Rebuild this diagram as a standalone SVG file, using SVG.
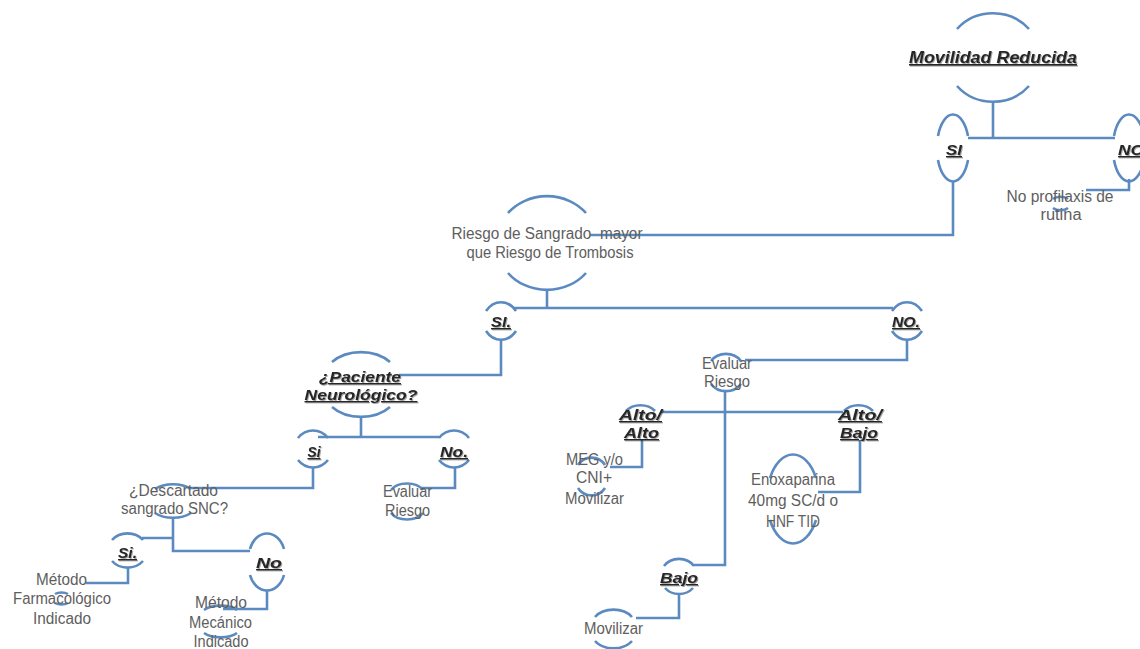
<svg xmlns="http://www.w3.org/2000/svg" width="1140" height="649" viewBox="0 0 1140 649">
<defs>
<style>
.a{fill:none;stroke:#5b8ac0;stroke-width:2.6}
.c{fill:none;stroke:#5b8ac0;stroke-width:2.6}
.t{font-family:"Liberation Sans",Arial,sans-serif;font-size:16px;fill:#5e5e5e;text-anchor:middle}
.b{font-family:"Liberation Sans",Arial,sans-serif;font-size:14px;font-weight:bold;font-style:italic;fill:#262626;text-decoration:underline;text-anchor:middle;filter:url(#sh)}
</style>
<filter id="sh" x="-10%" y="-30%" width="120%" height="160%">
<feDropShadow dx="1" dy="1" stdDeviation="0.6" flood-color="#000" flood-opacity="0.35"/>
</filter>
</defs>
<rect width="1140" height="649" fill="#ffffff"/>
<g id="connectors">
<path class="c" d="M993,101 V138 M968,138 H1115"/>
<path class="c" d="M953,181 V235 H590"/>
<path class="c" d="M1129,179 V190 H1086"/>
<path class="c" d="M547,290 V308 M513,308 H893"/>
<path class="c" d="M501,340 V375 H399"/>
<path class="c" d="M907,340 V360 H745"/>
<path class="c" d="M361,417 V437 M318,437 H439"/>
<path class="c" d="M313,467 V488 H188"/>
<path class="c" d="M455,467 V488 H421"/>
<path class="c" d="M173,518 V551 H250 M173,538 H142"/>
<path class="c" d="M128,568 V583 H86"/>
<path class="c" d="M267,590 V609 H223"/>
<path class="c" d="M725,391 V565 H694 M660,412 H843"/>
<path class="c" d="M642,440 V467 H610"/>
<path class="c" d="M860,440 V492 H818"/>
<path class="c" d="M679,594 V618 H636"/>
</g>
<g id="movilidad">
<path class="a" d="M957,29 A47,44 0 0 1 1029,29 M957,86 A47,44 0 0 0 1029,86"/>
<text class="b" x="993" y="63" style="font-size:16px" textLength="168" lengthAdjust="spacingAndGlyphs">Movilidad Reducida</text>
</g>
<g id="si-1">
<path class="a" d="M938,136 A16,33 0 0 1 968,136 M938,160 A16,33 0 0 0 968,160"/>
<text class="b" x="954" y="155" textLength="16" lengthAdjust="spacingAndGlyphs">SI</text>
</g>
<g id="no-1">
<path class="a" d="M1114,136 A16,33 0 0 1 1144,136 M1114,160 A16,33 0 0 0 1144,160"/>
<text class="b" x="1118" y="155" style="text-anchor:start" textLength="26" lengthAdjust="spacingAndGlyphs">NO</text>
</g>
<g id="no-profilaxis">
<path class="a" d="M1053,199 A9,5 0 0 1 1068,199 M1053,208 A9,5 0 0 0 1068,208"/>
<text class="t" x="1060" y="202" textLength="107" lengthAdjust="spacingAndGlyphs">No profilaxis de</text>
<text class="t" x="1061" y="220" textLength="41" lengthAdjust="spacingAndGlyphs">rutina</text>
</g>
<g id="riesgo-sangrado">
<path class="a" d="M508,213 A50,45 0 0 1 586,213 M508,273 A50,45 0 0 0 586,273"/>
<text class="t" x="547" y="239" style="white-space:pre" textLength="191" lengthAdjust="spacingAndGlyphs">Riesgo de Sangrado  mayor</text>
<text class="t" x="550" y="258" textLength="167" lengthAdjust="spacingAndGlyphs">que Riesgo de Trombosis</text>
</g>
<g id="si-2">
<path class="a" d="M486,311 A20,26 0 0 1 516,311 M486,331 A20,26 0 0 0 516,331"/>
<text class="b" x="501" y="327" textLength="20" lengthAdjust="spacingAndGlyphs">SI.</text>
</g>
<g id="no-2">
<path class="a" d="M892,311 A20,26 0 0 1 922,311 M892,331 A20,26 0 0 0 922,331"/>
<text class="b" x="906" y="327" textLength="28" lengthAdjust="spacingAndGlyphs">NO.</text>
</g>
<g id="evaluar-riesgo-1">
<path class="a" d="M711,361 A18,16 0 0 1 741,361 M711,384 A18,16 0 0 0 741,384"/>
<text class="t" x="727" y="369" textLength="50" lengthAdjust="spacingAndGlyphs">Evaluar</text>
<text class="t" x="727" y="387" textLength="46" lengthAdjust="spacingAndGlyphs">Riesgo</text>
</g>
<g id="paciente-neurologico">
<path class="a" d="M332,362 A38,28 0 0 1 390,362 M332,407 A38,28 0 0 0 390,407"/>
<text class="b" x="360" y="382" textLength="82" lengthAdjust="spacingAndGlyphs">¿Paciente</text>
<text class="b" x="361" y="400" textLength="113" lengthAdjust="spacingAndGlyphs">Neurológico?</text>
</g>
<g id="si-3">
<path class="a" d="M298,438 A20,22 0 0 1 328,438 M298,460 A20,22 0 0 0 328,460"/>
<text class="b" x="314" y="457" textLength="13" lengthAdjust="spacingAndGlyphs">Si</text>
</g>
<g id="no-3">
<path class="a" d="M439,438 A20,22 0 0 1 469,438 M439,460 A20,22 0 0 0 469,460"/>
<text class="b" x="454" y="457" textLength="28" lengthAdjust="spacingAndGlyphs">No.</text>
</g>
<g id="descartado-sangrado">
<path class="a" d="M155,489 A24,14 0 0 1 191,489 M155,513 A24,14 0 0 0 191,513"/>
<text class="t" x="173.5" y="496" textLength="89" lengthAdjust="spacingAndGlyphs">¿Descartado</text>
<text class="t" x="174.5" y="514" textLength="107" lengthAdjust="spacingAndGlyphs">sangrado SNC?</text>
</g>
<g id="evaluar-riesgo-2">
<path class="a" d="M391,490 A18,12 0 0 1 423,490 M391,513 A18,12 0 0 0 423,513"/>
<text class="t" x="407.5" y="497" textLength="49" lengthAdjust="spacingAndGlyphs">Evaluar</text>
<text class="t" x="407.5" y="516" textLength="45" lengthAdjust="spacingAndGlyphs">Riesgo</text>
</g>
<g id="si-4">
<path class="a" d="M112,540 A20,18 0 0 1 143,540 M112,561 A20,18 0 0 0 143,561"/>
<text class="b" x="127.5" y="558" textLength="19" lengthAdjust="spacingAndGlyphs">Si.</text>
</g>
<g id="no-4">
<path class="a" d="M250,549 A18,23 0 0 1 284,549 M250,575 A18,23 0 0 0 284,575"/>
<text class="b" x="269" y="568" textLength="26" lengthAdjust="spacingAndGlyphs">No</text>
</g>
<g id="metodo-farmacologico">
<path class="a" d="M55,594 A9,5 0 0 1 68,594 M55,603 A9,5 0 0 0 68,603"/>
<text class="t" x="61.5" y="585" textLength="51" lengthAdjust="spacingAndGlyphs">Método</text>
<text class="t" x="62" y="604" textLength="98" lengthAdjust="spacingAndGlyphs">Farmacológico</text>
<text class="t" x="62" y="624" textLength="58" lengthAdjust="spacingAndGlyphs">Indicado</text>
</g>
<g id="metodo-mecanico">
<path class="a" d="M204,610 A20,10 0 0 1 237,610 M204,633 A20,10 0 0 0 237,633"/>
<text class="t" x="221" y="608" textLength="52" lengthAdjust="spacingAndGlyphs">Método</text>
<text class="t" x="220.5" y="628" textLength="63" lengthAdjust="spacingAndGlyphs">Mecánico</text>
<text class="t" x="221" y="647" textLength="55" lengthAdjust="spacingAndGlyphs">Indicado</text>
</g>
<g id="alto-alto">
<path class="a" d="M626,411 A18,14 0 0 1 655,411"/>
<text class="b" x="640.5" y="420" textLength="43" lengthAdjust="spacingAndGlyphs">Alto/</text>
<text class="b" x="641.5" y="438" textLength="35" lengthAdjust="spacingAndGlyphs">Alto</text>
</g>
<g id="alto-bajo">
<path class="a" d="M844,411 A18,14 0 0 1 873,411"/>
<text class="b" x="860" y="420" textLength="44" lengthAdjust="spacingAndGlyphs">Alto/</text>
<text class="b" x="859" y="438" textLength="38" lengthAdjust="spacingAndGlyphs">Bajo</text>
</g>
<g id="meg-cni">
<path class="a" d="M578,465 A16,16 0 0 1 605,465 M578,488 A16,16 0 0 0 605,488"/>
<text class="t" x="594.5" y="465" textLength="57" lengthAdjust="spacingAndGlyphs">MEG y/o</text>
<text class="t" x="594" y="483" textLength="36" lengthAdjust="spacingAndGlyphs">CNI+</text>
<text class="t" x="594.5" y="504" textLength="59" lengthAdjust="spacingAndGlyphs">Movilizar</text>
</g>
<g id="enoxaparina">
<path class="a" d="M770,478 A26,44 0 0 1 816,478 M770,520 A26,44 0 0 0 816,520"/>
<text class="t" x="793" y="485" textLength="84" lengthAdjust="spacingAndGlyphs">Enoxaparina</text>
<text class="t" x="793" y="506" textLength="90" lengthAdjust="spacingAndGlyphs">40mg SC/d o</text>
<text class="t" x="793" y="527" textLength="54" lengthAdjust="spacingAndGlyphs">HNF TID</text>
</g>
<g id="bajo">
<path class="a" d="M664,566 A18,16 0 0 1 694,566 M665,588 A18,16 0 0 0 693,588"/>
<text class="b" x="679" y="583" textLength="38" lengthAdjust="spacingAndGlyphs">Bajo</text>
</g>
<g id="movilizar">
<path class="a" d="M595,617 A22,16 0 0 1 632,617 M595,641 A22,16 0 0 0 632,641"/>
<text class="t" x="613.5" y="634" textLength="59" lengthAdjust="spacingAndGlyphs">Movilizar</text>
</g>
</svg>
